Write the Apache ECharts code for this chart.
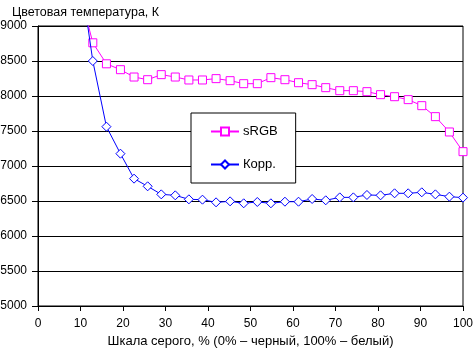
<!DOCTYPE html>
<html>
<head>
<meta charset="utf-8">
<script src="https://cdn.jsdelivr.net/npm/echarts@6/dist/echarts.min.js"></script>
<style>
html,body{margin:0;padding:0;background:#fff;}
#chart{width:473px;height:349px;}
</style>
</head>
<body>
<div id="chart"></div>
<script>
// Grey level, % (0% – black, 100% – white)
var greyLevels = [9.7, 12.9, 16.1, 19.4, 22.6, 25.8, 29.0, 32.3, 35.5, 38.7, 41.9, 45.2, 48.4, 51.6, 54.8, 58.1, 61.3, 64.5, 67.7, 71.0, 74.2, 77.4, 80.6, 83.9, 87.1, 90.3, 93.5, 96.8, 100];
// Colour temperature, K
var srgbValues = [9510, 8760, 8460, 8376, 8271, 8233, 8305, 8271, 8229, 8229, 8248, 8219, 8176, 8176, 8262, 8233, 8190, 8162, 8119, 8076, 8076, 8062, 8019, 7990, 7948, 7862, 7705, 7486, 7205];
var corrValues = [9840, 8500, 7562, 7176, 6819, 6710, 6595, 6581, 6524, 6519, 6481, 6495, 6467, 6486, 6467, 6490, 6490, 6529, 6510, 6552, 6552, 6586, 6581, 6610, 6610, 6624, 6595, 6562, 6548];
var seriesNames = ['sRGB', 'Корр.'];
var titleText = 'Цветовая температура, К';
var xAxisTitle = 'Шкала серого, % (0% – черный, 100% – белый)';

function pairs(xs, ys) {
  var out = [];
  for (var i = 0; i < xs.length; i++) out.push([xs[i], ys[i]]);
  return out;
}

var font = 'Liberation Sans, Arial, sans-serif';
var chart = echarts.init(document.getElementById('chart'), null, {renderer: 'canvas'});
chart.setOption({
  animation: false,
  backgroundColor: '#fff',
  title: {
    text: titleText,
    left: 7,
    top: 1,
    textStyle: {fontFamily: font, fontSize: 12.5, fontWeight: 'normal', color: '#000'}
  },
  grid: {
    left: 38, right: 10, top: 26, bottom: 43,
    containLabel: false,
    outerBoundsMode: 'none',
    show: true, borderColor: '#000', borderWidth: 1, backgroundColor: 'transparent'
  },
  legend: {
    orient: 'vertical',
    left: 191, top: 113,
    padding: [12, 18, 12, 19],
    itemGap: 20,
    itemWidth: 28,
    itemHeight: 10,
    backgroundColor: '#fff',
    borderColor: '#000',
    borderWidth: 1,
    borderRadius: 0,
    textStyle: {fontFamily: font, fontSize: 13, color: '#000', padding: [0, 0, 0, -1]},
    data: seriesNames
  },
  xAxis: {
    type: 'value',
    min: 0, max: 100, interval: 10,
    name: xAxisTitle,
    nameLocation: 'middle',
    nameGap: 26,
    nameTextStyle: {fontFamily: font, fontSize: 13, color: '#000'},
    axisLine: {show: true, lineStyle: {color: '#000', width: 1}},
    axisTick: {show: true, length: 5, lineStyle: {color: '#000'}},
    axisLabel: {fontFamily: font, fontSize: 12, color: '#000', margin: 12},
    splitLine: {show: false}
  },
  yAxis: {
    type: 'value',
    min: 5000, max: 9000, interval: 500,
    axisLine: {show: true, lineStyle: {color: '#000', width: 1}},
    axisTick: {show: true, length: 6, lineStyle: {color: '#000'}},
    axisLabel: {fontFamily: font, fontSize: 12, color: '#000', margin: 11,
      formatter: function (v) { return String(v); }},
    splitLine: {show: true, lineStyle: {color: '#000', width: 1}}
  },
  series: [
    {
      name: seriesNames[0],
      type: 'line',
      data: pairs(greyLevels, srgbValues),
      clip: true,
      symbol: 'rect',
      symbolSize: 8,
      showAllSymbol: true,
      color: '#ff00ff',
      lineStyle: {color: '#ff00ff', width: 1},
      itemStyle: {color: '#fff', borderColor: '#ff00ff', borderWidth: 1},
      z: 2
    },
    {
      name: seriesNames[1],
      type: 'line',
      data: pairs(greyLevels, corrValues),
      clip: true,
      symbol: 'diamond',
      symbolSize: 9,
      showAllSymbol: true,
      color: '#0000ff',
      lineStyle: {color: '#0000ff', width: 1},
      itemStyle: {color: '#fff', borderColor: '#0000ff', borderWidth: 1},
      z: 3
    }
  ]
});
</script>
</body>
</html>
